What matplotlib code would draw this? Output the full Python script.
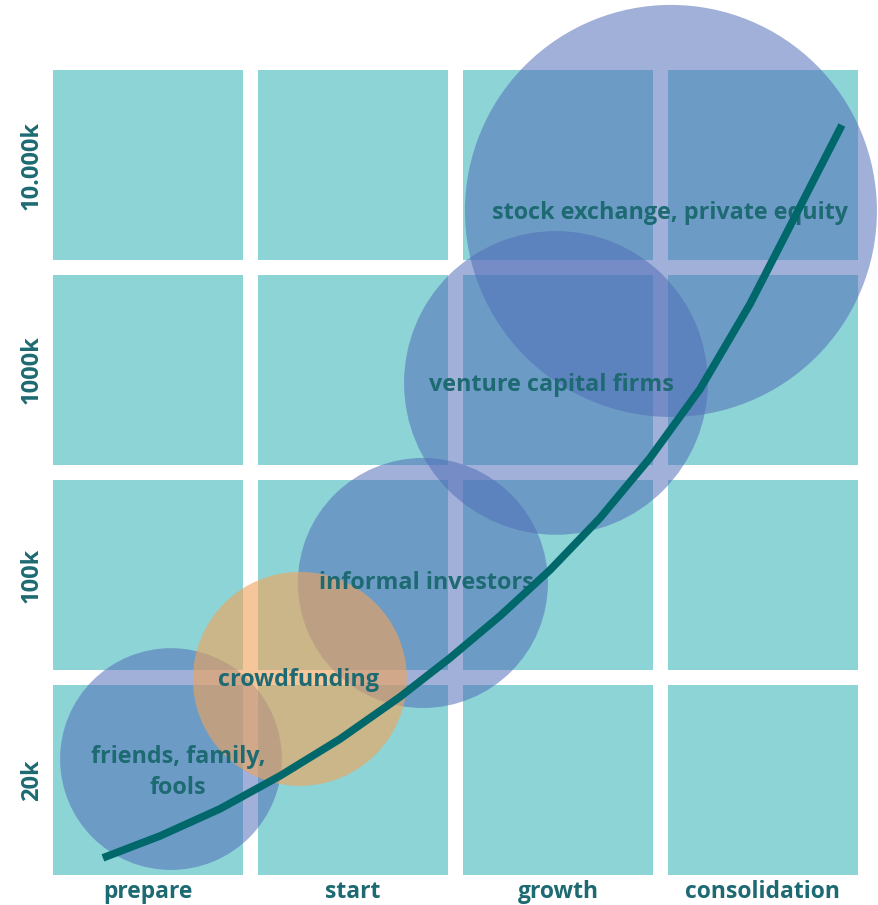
import matplotlib.pyplot as plt
from matplotlib.patches import Rectangle, Circle

# stages (columns) and funding levels (rows)
stages = ["prepare", "start", "growth", "consolidation"]
levels = ["20k", "100k", "1000k", "10.000k"]

# funding sources: centre (stage units, level units) and radius
sources = ["friends, family,\nfools", "informal investors", "crowdfunding",
           "venture capital firms", "stock exchange, private equity"]
src_x = [0.612, 1.841, 1.241, 2.490, 3.051]
src_y = [0.602, 1.461, 0.993, 2.437, 3.276]
src_r = [0.541, 0.610, 0.522, 0.741, 1.005]
src_label_x = [0.646, 1.856, 1.232, 2.466, 3.046]
src_label_y = [0.535, 1.461, 0.988, 2.427, 3.266]
src_color = ["#526fb8", "#526fb8", "#f0a45a", "#526fb8", "#526fb8"]
src_alpha = [0.55, 0.55, 0.62, 0.55, 0.55]

# growth curve
curve_x = [0.280, 0.559, 0.851, 1.144, 1.437, 1.729, 1.973, 2.217,
           2.461, 2.705, 2.949, 3.193, 3.437, 3.680, 3.885]
curve_y = [0.120, 0.227, 0.359, 0.520, 0.700, 0.905, 1.095, 1.300,
           1.524, 1.778, 2.071, 2.407, 2.822, 3.295, 3.695]

cell_color = "#8dd4d7"
text_color = "#1d6a72"
gap = 0.073

fig = plt.figure(figsize=(8.79, 9.05), dpi=100)
ax = fig.add_axes([0, 0, 1, 1])
ax.set_xlim(-0.222, 4.066)
ax.set_ylim(-0.110, 4.305)
ax.set_aspect("equal")
ax.axis("off")

for i in range(len(stages)):
    for j in range(len(levels)):
        ax.add_patch(Rectangle((i + gap / 2, j + gap / 2), 1 - gap, 1 - gap,
                               facecolor=cell_color, edgecolor="none", zorder=1))

for x, y, r, c, a in zip(src_x, src_y, src_r, src_color, src_alpha):
    ax.add_patch(Circle((x, y), r, facecolor=c, edgecolor="none", alpha=a, zorder=2))

font = "Open Sans"
for name, x, y in zip(sources, src_label_x, src_label_y):
    ax.text(x, y, name, ha="center", va="center", fontsize=16.8, fontweight="bold",
            family=font, color=text_color, linespacing=1.4, zorder=3)

ax.plot(curve_x, curve_y, color="#00686b", lw=5.5, solid_capstyle="butt",
        solid_joinstyle="round", zorder=4)

for i, s in enumerate(stages):
    ax.text(i + 0.5, -0.045, s, ha="center", va="center", fontsize=16.5,
            fontweight="bold", family=font, color=text_color)
for j, l in enumerate(levels):
    ax.text(-0.068, j + 0.5, l, ha="center", va="center", rotation=90, fontsize=17,
            fontweight="bold", family=font, color=text_color)

fig.savefig("out.png", dpi=100)
